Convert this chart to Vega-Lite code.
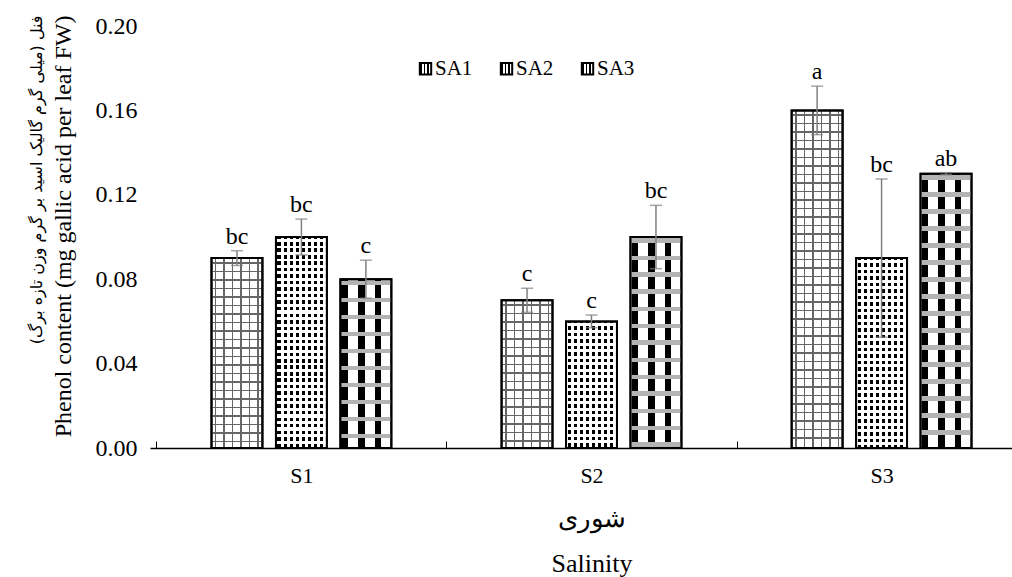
{
  "$schema": "https://vega.github.io/schema/vega-lite/v6.json",
  "autosize": {"type": "none"},
  "padding": {"left": 150, "top": 26, "right": 0, "bottom": 129},
  "width": 862,
  "height": 422,
  "background": "white",
  "config": {
    "view": {"stroke": null},
    "font": "Liberation Serif",
    "axis": {"labelFont": "Liberation Serif", "titleFont": "Liberation Serif", "labelColor": "black", "titleColor": "black", "titleFontWeight": "normal", "grid": false},
    "legend": {"labelFont": "Liberation Serif"},
    "text": {"font": "Liberation Serif"}
  },
  "data": {
    "values": [
      {"S": "S1", "SA": "SA1", "v": 0.09, "lo": 0.0865, "hi": 0.0935, "g": "bc"},
      {"S": "S1", "SA": "SA2", "v": 0.10, "lo": 0.0915, "hi": 0.1085, "g": "bc"},
      {"S": "S1", "SA": "SA3", "v": 0.08, "lo": 0.071, "hi": 0.089, "g": "c"},
      {"S": "S2", "SA": "SA1", "v": 0.07, "lo": 0.0643, "hi": 0.0757, "g": "c"},
      {"S": "S2", "SA": "SA2", "v": 0.06, "lo": 0.057, "hi": 0.063, "g": "c"},
      {"S": "S2", "SA": "SA3", "v": 0.10, "lo": 0.085, "hi": 0.115, "g": "bc"},
      {"S": "S3", "SA": "SA1", "v": 0.16, "lo": 0.1485, "hi": 0.1715, "g": "a"},
      {"S": "S3", "SA": "SA2", "v": 0.09, "lo": 0.0525, "hi": 0.1275, "g": "bc"},
      {"S": "S3", "SA": "SA3", "v": 0.13, "lo": 0.1295, "hi": 0.1305, "g": "ab"}
    ]
  },
  "resolve": {"axis": {"y": "independent"}},
  "encoding": {
    "x": {
      "field": "S", "type": "nominal",
      "scale": {"range": [0, 883], "paddingInner": 0, "paddingOuter": 0.022},
      "axis": {
        "title": ["شوری", "Salinity"],
        "titleFont": "Liberation Serif",
        "titleFontSize": 26,
        "titleLineHeight": 45,
        "titlePadding": 19,
        "labelFont": "Liberation Serif",
        "labelAngle": 0,
        "labelFontSize": 22,
        "labelPadding": 24,
        "domainColor": "black",
        "domainWidth": 1.5,
        "tickBand": "extent",
        "tickSize": -7,
        "tickColor": "black",
        "tickWidth": 1
      }
    },
    "xOffset": {"field": "SA", "type": "nominal", "scale": {"paddingInner": 0.21, "paddingOuter": 0.855}}
  },
  "layer": [
    {
      "mark": {"type": "bar", "strokeWidth": 2},
      "encoding": {
        "y": {
          "field": "v", "type": "quantitative",
          "scale": {"domain": [0, 0.2], "nice": false},
          "axis": {
            "title": "Phenol content (mg gallic acid per leaf FW)",
            "titleFont": "Liberation Serif",
            "titleFontSize": 24,
            "titlePadding": 20,
            "titleAlign": "right",
            "titleY": -11,
            "values": [0, 0.04, 0.08, 0.12, 0.16, 0.2],
            "format": ".2f",
            "labelFont": "Liberation Serif",
            "labelFontSize": 24,
            "labelPadding": 13,
            "domain": false,
            "ticks": false
          }
        },
        "stroke": {
          "field": "SA", "type": "nominal",
          "scale": {"range": ["black", "black", "black"]},
          "legend": {
            "title": null,
            "orient": "none",
            "legendX": 265,
            "legendY": 32,
            "direction": "horizontal",
            "symbolType": "square",
            "symbolSize": 130,
            "symbolStrokeWidth": 2,
            "symbolFillColor": "white",
            "labelFont": "Liberation Serif",
            "labelFontSize": 21,
            "labelColor": "black",
            "labelOffset": -1,
            "columnPadding": 23
          }
        },
        "fill": {
          "condition": [
            {
              "test": "datum.SA === 'SA1'",
              "value": {
                "gradient": "linear", "x1": 0, "y1": 0, "x2": 1, "y2": 0,
                "stops": [
                  {"offset": 0, "color": "white"},
                  {"offset": 0.068, "color": "white"}, {"offset": 0.068, "color": "#666"}, {"offset": 0.098, "color": "#666"}, {"offset": 0.098, "color": "white"},
                  {"offset": 0.235, "color": "white"}, {"offset": 0.235, "color": "#666"}, {"offset": 0.265, "color": "#666"}, {"offset": 0.265, "color": "white"},
                  {"offset": 0.402, "color": "white"}, {"offset": 0.402, "color": "#666"}, {"offset": 0.432, "color": "#666"}, {"offset": 0.432, "color": "white"},
                  {"offset": 0.568, "color": "white"}, {"offset": 0.568, "color": "#666"}, {"offset": 0.598, "color": "#666"}, {"offset": 0.598, "color": "white"},
                  {"offset": 0.735, "color": "white"}, {"offset": 0.735, "color": "#666"}, {"offset": 0.765, "color": "#666"}, {"offset": 0.765, "color": "white"},
                  {"offset": 0.902, "color": "white"}, {"offset": 0.902, "color": "#666"}, {"offset": 0.932, "color": "#666"}, {"offset": 0.932, "color": "white"},
                  {"offset": 1, "color": "white"}
                ]
              }
            },
            {
              "test": "datum.SA === 'SA2'",
              "value": {
                "gradient": "linear", "x1": 0, "y1": 0, "x2": 1, "y2": 0,
                "stops": [
                  {"offset": 0, "color": "white"},
                  {"offset": 0.03, "color": "white"}, {"offset": 0.03, "color": "black"}, {"offset": 0.09, "color": "black"}, {"offset": 0.09, "color": "white"},
                  {"offset": 0.15, "color": "white"}, {"offset": 0.15, "color": "black"}, {"offset": 0.21, "color": "black"}, {"offset": 0.21, "color": "white"},
                  {"offset": 0.27, "color": "white"}, {"offset": 0.27, "color": "black"}, {"offset": 0.33, "color": "black"}, {"offset": 0.33, "color": "white"},
                  {"offset": 0.39, "color": "white"}, {"offset": 0.39, "color": "black"}, {"offset": 0.45, "color": "black"}, {"offset": 0.45, "color": "white"},
                  {"offset": 0.51, "color": "white"}, {"offset": 0.51, "color": "black"}, {"offset": 0.57, "color": "black"}, {"offset": 0.57, "color": "white"},
                  {"offset": 0.63, "color": "white"}, {"offset": 0.63, "color": "black"}, {"offset": 0.69, "color": "black"}, {"offset": 0.69, "color": "white"},
                  {"offset": 0.75, "color": "white"}, {"offset": 0.75, "color": "black"}, {"offset": 0.81, "color": "black"}, {"offset": 0.81, "color": "white"},
                  {"offset": 0.87, "color": "white"}, {"offset": 0.87, "color": "black"}, {"offset": 0.93, "color": "black"}, {"offset": 0.93, "color": "white"},
                  {"offset": 1, "color": "white"}
                ]
              }
            }
          ],
          "value": {
            "gradient": "linear", "x1": 0, "y1": 0, "x2": 1, "y2": 0,
            "stops": [
              {"offset": 0, "color": "white"},
              {"offset": 0.02, "color": "white"}, {"offset": 0.02, "color": "black"}, {"offset": 0.15, "color": "black"}, {"offset": 0.15, "color": "white"},
              {"offset": 0.35, "color": "white"}, {"offset": 0.35, "color": "black"}, {"offset": 0.48, "color": "black"}, {"offset": 0.48, "color": "white"},
              {"offset": 0.67, "color": "white"}, {"offset": 0.67, "color": "black"}, {"offset": 0.80, "color": "black"}, {"offset": 0.80, "color": "white"},
              {"offset": 1, "color": "white"}
            ]
          }
        }
      }
    },
    {
      "transform": [{"filter": "datum.SA === 'SA1'"}],
      "mark": {"type": "bar", "strokeWidth": 0},
      "encoding": {
        "y": {"field": "v", "type": "quantitative", "axis": null},
        "fill": {
          "condition": [
            {
              "test": "datum.S === 'S1'",
              "value": {
                "gradient": "linear", "x1": 0, "y1": 0, "x2": 0, "y2": 1,
                "stops": [
                  {"offset": 0, "color": "transparent"},
                  {"offset": 0.0211, "color": "transparent"}, {"offset": 0.0211, "color": "#666"}, {"offset": 0.0290, "color": "#666"}, {"offset": 0.0290, "color": "transparent"},
                  {"offset": 0.0658, "color": "transparent"}, {"offset": 0.0658, "color": "#666"}, {"offset": 0.0737, "color": "#666"}, {"offset": 0.0737, "color": "transparent"},
                  {"offset": 0.1106, "color": "transparent"}, {"offset": 0.1106, "color": "#666"}, {"offset": 0.1185, "color": "#666"}, {"offset": 0.1185, "color": "transparent"},
                  {"offset": 0.1553, "color": "transparent"}, {"offset": 0.1553, "color": "#666"}, {"offset": 0.1632, "color": "#666"}, {"offset": 0.1632, "color": "transparent"},
                  {"offset": 0.2001, "color": "transparent"}, {"offset": 0.2001, "color": "#666"}, {"offset": 0.2080, "color": "#666"}, {"offset": 0.2080, "color": "transparent"},
                  {"offset": 0.2449, "color": "transparent"}, {"offset": 0.2449, "color": "#666"}, {"offset": 0.2528, "color": "#666"}, {"offset": 0.2528, "color": "transparent"},
                  {"offset": 0.2896, "color": "transparent"}, {"offset": 0.2896, "color": "#666"}, {"offset": 0.2975, "color": "#666"}, {"offset": 0.2975, "color": "transparent"},
                  {"offset": 0.3344, "color": "transparent"}, {"offset": 0.3344, "color": "#666"}, {"offset": 0.3423, "color": "#666"}, {"offset": 0.3423, "color": "transparent"},
                  {"offset": 0.3791, "color": "transparent"}, {"offset": 0.3791, "color": "#666"}, {"offset": 0.3871, "color": "#666"}, {"offset": 0.3871, "color": "transparent"},
                  {"offset": 0.4239, "color": "transparent"}, {"offset": 0.4239, "color": "#666"}, {"offset": 0.4318, "color": "#666"}, {"offset": 0.4318, "color": "transparent"},
                  {"offset": 0.4687, "color": "transparent"}, {"offset": 0.4687, "color": "#666"}, {"offset": 0.4766, "color": "#666"}, {"offset": 0.4766, "color": "transparent"},
                  {"offset": 0.5134, "color": "transparent"}, {"offset": 0.5134, "color": "#666"}, {"offset": 0.5213, "color": "#666"}, {"offset": 0.5213, "color": "transparent"},
                  {"offset": 0.5582, "color": "transparent"}, {"offset": 0.5582, "color": "#666"}, {"offset": 0.5661, "color": "#666"}, {"offset": 0.5661, "color": "transparent"},
                  {"offset": 0.6030, "color": "transparent"}, {"offset": 0.6030, "color": "#666"}, {"offset": 0.6108, "color": "#666"}, {"offset": 0.6108, "color": "transparent"},
                  {"offset": 0.6477, "color": "transparent"}, {"offset": 0.6477, "color": "#666"}, {"offset": 0.6556, "color": "#666"}, {"offset": 0.6556, "color": "transparent"},
                  {"offset": 0.6925, "color": "transparent"}, {"offset": 0.6925, "color": "#666"}, {"offset": 0.7004, "color": "#666"}, {"offset": 0.7004, "color": "transparent"},
                  {"offset": 0.7372, "color": "transparent"}, {"offset": 0.7372, "color": "#666"}, {"offset": 0.7451, "color": "#666"}, {"offset": 0.7451, "color": "transparent"},
                  {"offset": 0.7820, "color": "transparent"}, {"offset": 0.7820, "color": "#666"}, {"offset": 0.7899, "color": "#666"}, {"offset": 0.7899, "color": "transparent"},
                  {"offset": 0.8268, "color": "transparent"}, {"offset": 0.8268, "color": "#666"}, {"offset": 0.8347, "color": "#666"}, {"offset": 0.8347, "color": "transparent"},
                  {"offset": 0.8715, "color": "transparent"}, {"offset": 0.8715, "color": "#666"}, {"offset": 0.8794, "color": "#666"}, {"offset": 0.8794, "color": "transparent"},
                  {"offset": 0.9163, "color": "transparent"}, {"offset": 0.9163, "color": "#666"}, {"offset": 0.9242, "color": "#666"}, {"offset": 0.9242, "color": "transparent"},
                  {"offset": 0.9610, "color": "transparent"}, {"offset": 0.9610, "color": "#666"}, {"offset": 0.9689, "color": "#666"}, {"offset": 0.9689, "color": "transparent"},
                  {"offset": 1, "color": "transparent"}
                ]
              }
            },
            {
              "test": "datum.S === 'S2'",
              "value": {
                "gradient": "linear", "x1": 0, "y1": 0, "x2": 0, "y2": 1,
                "stops": [
                  {"offset": 0, "color": "transparent"},
                  {"offset": 0.0271, "color": "transparent"}, {"offset": 0.0271, "color": "#666"}, {"offset": 0.0372, "color": "#666"}, {"offset": 0.0372, "color": "transparent"},
                  {"offset": 0.0846, "color": "transparent"}, {"offset": 0.0846, "color": "#666"}, {"offset": 0.0948, "color": "#666"}, {"offset": 0.0948, "color": "transparent"},
                  {"offset": 0.1422, "color": "transparent"}, {"offset": 0.1422, "color": "#666"}, {"offset": 0.1523, "color": "#666"}, {"offset": 0.1523, "color": "transparent"},
                  {"offset": 0.1997, "color": "transparent"}, {"offset": 0.1997, "color": "#666"}, {"offset": 0.2099, "color": "#666"}, {"offset": 0.2099, "color": "transparent"},
                  {"offset": 0.2573, "color": "transparent"}, {"offset": 0.2573, "color": "#666"}, {"offset": 0.2674, "color": "#666"}, {"offset": 0.2674, "color": "transparent"},
                  {"offset": 0.3148, "color": "transparent"}, {"offset": 0.3148, "color": "#666"}, {"offset": 0.3250, "color": "#666"}, {"offset": 0.3250, "color": "transparent"},
                  {"offset": 0.3724, "color": "transparent"}, {"offset": 0.3724, "color": "#666"}, {"offset": 0.3825, "color": "#666"}, {"offset": 0.3825, "color": "transparent"},
                  {"offset": 0.4299, "color": "transparent"}, {"offset": 0.4299, "color": "#666"}, {"offset": 0.4401, "color": "#666"}, {"offset": 0.4401, "color": "transparent"},
                  {"offset": 0.4875, "color": "transparent"}, {"offset": 0.4875, "color": "#666"}, {"offset": 0.4976, "color": "#666"}, {"offset": 0.4976, "color": "transparent"},
                  {"offset": 0.5450, "color": "transparent"}, {"offset": 0.5450, "color": "#666"}, {"offset": 0.5552, "color": "#666"}, {"offset": 0.5552, "color": "transparent"},
                  {"offset": 0.6026, "color": "transparent"}, {"offset": 0.6026, "color": "#666"}, {"offset": 0.6127, "color": "#666"}, {"offset": 0.6127, "color": "transparent"},
                  {"offset": 0.6601, "color": "transparent"}, {"offset": 0.6601, "color": "#666"}, {"offset": 0.6703, "color": "#666"}, {"offset": 0.6703, "color": "transparent"},
                  {"offset": 0.7177, "color": "transparent"}, {"offset": 0.7177, "color": "#666"}, {"offset": 0.7278, "color": "#666"}, {"offset": 0.7278, "color": "transparent"},
                  {"offset": 0.7752, "color": "transparent"}, {"offset": 0.7752, "color": "#666"}, {"offset": 0.7854, "color": "#666"}, {"offset": 0.7854, "color": "transparent"},
                  {"offset": 0.8328, "color": "transparent"}, {"offset": 0.8328, "color": "#666"}, {"offset": 0.8429, "color": "#666"}, {"offset": 0.8429, "color": "transparent"},
                  {"offset": 0.8903, "color": "transparent"}, {"offset": 0.8903, "color": "#666"}, {"offset": 0.9005, "color": "#666"}, {"offset": 0.9005, "color": "transparent"},
                  {"offset": 0.9479, "color": "transparent"}, {"offset": 0.9479, "color": "#666"}, {"offset": 0.9580, "color": "#666"}, {"offset": 0.9580, "color": "transparent"},
                  {"offset": 1, "color": "transparent"}
                ]
              }
            }
          ],
          "value": {
            "gradient": "linear", "x1": 0, "y1": 0, "x2": 0, "y2": 1,
            "stops": [
              {"offset": 0, "color": "transparent"},
              {"offset": 0.0118, "color": "transparent"}, {"offset": 0.0118, "color": "#666"}, {"offset": 0.0163, "color": "#666"}, {"offset": 0.0163, "color": "transparent"},
              {"offset": 0.0370, "color": "transparent"}, {"offset": 0.0370, "color": "#666"}, {"offset": 0.0415, "color": "#666"}, {"offset": 0.0415, "color": "transparent"},
              {"offset": 0.0622, "color": "transparent"}, {"offset": 0.0622, "color": "#666"}, {"offset": 0.0666, "color": "#666"}, {"offset": 0.0666, "color": "transparent"},
              {"offset": 0.0874, "color": "transparent"}, {"offset": 0.0874, "color": "#666"}, {"offset": 0.0918, "color": "#666"}, {"offset": 0.0918, "color": "transparent"},
              {"offset": 0.1126, "color": "transparent"}, {"offset": 0.1126, "color": "#666"}, {"offset": 0.1170, "color": "#666"}, {"offset": 0.1170, "color": "transparent"},
              {"offset": 0.1377, "color": "transparent"}, {"offset": 0.1377, "color": "#666"}, {"offset": 0.1422, "color": "#666"}, {"offset": 0.1422, "color": "transparent"},
              {"offset": 0.1629, "color": "transparent"}, {"offset": 0.1629, "color": "#666"}, {"offset": 0.1674, "color": "#666"}, {"offset": 0.1674, "color": "transparent"},
              {"offset": 0.1881, "color": "transparent"}, {"offset": 0.1881, "color": "#666"}, {"offset": 0.1925, "color": "#666"}, {"offset": 0.1925, "color": "transparent"},
              {"offset": 0.2133, "color": "transparent"}, {"offset": 0.2133, "color": "#666"}, {"offset": 0.2177, "color": "#666"}, {"offset": 0.2177, "color": "transparent"},
              {"offset": 0.2384, "color": "transparent"}, {"offset": 0.2384, "color": "#666"}, {"offset": 0.2429, "color": "#666"}, {"offset": 0.2429, "color": "transparent"},
              {"offset": 0.2636, "color": "transparent"}, {"offset": 0.2636, "color": "#666"}, {"offset": 0.2681, "color": "#666"}, {"offset": 0.2681, "color": "transparent"},
              {"offset": 0.2888, "color": "transparent"}, {"offset": 0.2888, "color": "#666"}, {"offset": 0.2932, "color": "#666"}, {"offset": 0.2932, "color": "transparent"},
              {"offset": 0.3140, "color": "transparent"}, {"offset": 0.3140, "color": "#666"}, {"offset": 0.3184, "color": "#666"}, {"offset": 0.3184, "color": "transparent"},
              {"offset": 0.3392, "color": "transparent"}, {"offset": 0.3392, "color": "#666"}, {"offset": 0.3436, "color": "#666"}, {"offset": 0.3436, "color": "transparent"},
              {"offset": 0.3643, "color": "transparent"}, {"offset": 0.3643, "color": "#666"}, {"offset": 0.3688, "color": "#666"}, {"offset": 0.3688, "color": "transparent"},
              {"offset": 0.3895, "color": "transparent"}, {"offset": 0.3895, "color": "#666"}, {"offset": 0.3940, "color": "#666"}, {"offset": 0.3940, "color": "transparent"},
              {"offset": 0.4147, "color": "transparent"}, {"offset": 0.4147, "color": "#666"}, {"offset": 0.4191, "color": "#666"}, {"offset": 0.4191, "color": "transparent"},
              {"offset": 0.4399, "color": "transparent"}, {"offset": 0.4399, "color": "#666"}, {"offset": 0.4443, "color": "#666"}, {"offset": 0.4443, "color": "transparent"},
              {"offset": 0.4650, "color": "transparent"}, {"offset": 0.4650, "color": "#666"}, {"offset": 0.4695, "color": "#666"}, {"offset": 0.4695, "color": "transparent"},
              {"offset": 0.4902, "color": "transparent"}, {"offset": 0.4902, "color": "#666"}, {"offset": 0.4947, "color": "#666"}, {"offset": 0.4947, "color": "transparent"},
              {"offset": 0.5154, "color": "transparent"}, {"offset": 0.5154, "color": "#666"}, {"offset": 0.5198, "color": "#666"}, {"offset": 0.5198, "color": "transparent"},
              {"offset": 0.5406, "color": "transparent"}, {"offset": 0.5406, "color": "#666"}, {"offset": 0.5450, "color": "#666"}, {"offset": 0.5450, "color": "transparent"},
              {"offset": 0.5658, "color": "transparent"}, {"offset": 0.5658, "color": "#666"}, {"offset": 0.5702, "color": "#666"}, {"offset": 0.5702, "color": "transparent"},
              {"offset": 0.5909, "color": "transparent"}, {"offset": 0.5909, "color": "#666"}, {"offset": 0.5954, "color": "#666"}, {"offset": 0.5954, "color": "transparent"},
              {"offset": 0.6161, "color": "transparent"}, {"offset": 0.6161, "color": "#666"}, {"offset": 0.6206, "color": "#666"}, {"offset": 0.6206, "color": "transparent"},
              {"offset": 0.6413, "color": "transparent"}, {"offset": 0.6413, "color": "#666"}, {"offset": 0.6457, "color": "#666"}, {"offset": 0.6457, "color": "transparent"},
              {"offset": 0.6665, "color": "transparent"}, {"offset": 0.6665, "color": "#666"}, {"offset": 0.6709, "color": "#666"}, {"offset": 0.6709, "color": "transparent"},
              {"offset": 0.6916, "color": "transparent"}, {"offset": 0.6916, "color": "#666"}, {"offset": 0.6961, "color": "#666"}, {"offset": 0.6961, "color": "transparent"},
              {"offset": 0.7168, "color": "transparent"}, {"offset": 0.7168, "color": "#666"}, {"offset": 0.7213, "color": "#666"}, {"offset": 0.7213, "color": "transparent"},
              {"offset": 0.7420, "color": "transparent"}, {"offset": 0.7420, "color": "#666"}, {"offset": 0.7464, "color": "#666"}, {"offset": 0.7464, "color": "transparent"},
              {"offset": 0.7672, "color": "transparent"}, {"offset": 0.7672, "color": "#666"}, {"offset": 0.7716, "color": "#666"}, {"offset": 0.7716, "color": "transparent"},
              {"offset": 0.7924, "color": "transparent"}, {"offset": 0.7924, "color": "#666"}, {"offset": 0.7968, "color": "#666"}, {"offset": 0.7968, "color": "transparent"},
              {"offset": 0.8175, "color": "transparent"}, {"offset": 0.8175, "color": "#666"}, {"offset": 0.8220, "color": "#666"}, {"offset": 0.8220, "color": "transparent"},
              {"offset": 0.8427, "color": "transparent"}, {"offset": 0.8427, "color": "#666"}, {"offset": 0.8472, "color": "#666"}, {"offset": 0.8472, "color": "transparent"},
              {"offset": 0.8679, "color": "transparent"}, {"offset": 0.8679, "color": "#666"}, {"offset": 0.8723, "color": "#666"}, {"offset": 0.8723, "color": "transparent"},
              {"offset": 0.8931, "color": "transparent"}, {"offset": 0.8931, "color": "#666"}, {"offset": 0.8975, "color": "#666"}, {"offset": 0.8975, "color": "transparent"},
              {"offset": 0.9182, "color": "transparent"}, {"offset": 0.9182, "color": "#666"}, {"offset": 0.9227, "color": "#666"}, {"offset": 0.9227, "color": "transparent"},
              {"offset": 0.9434, "color": "transparent"}, {"offset": 0.9434, "color": "#666"}, {"offset": 0.9479, "color": "#666"}, {"offset": 0.9479, "color": "transparent"},
              {"offset": 0.9686, "color": "transparent"}, {"offset": 0.9686, "color": "#666"}, {"offset": 0.9730, "color": "#666"}, {"offset": 0.9730, "color": "transparent"},
              {"offset": 1, "color": "transparent"}
            ]
          }
        }
      }
    },
    {
      "transform": [{"filter": "datum.SA === 'SA2'"}],
      "mark": {"type": "bar", "strokeWidth": 0},
      "encoding": {
        "y": {"field": "v", "type": "quantitative", "axis": null},
        "fill": {
          "condition": [
            {
              "test": "datum.S === 'S1'",
              "value": {
                "gradient": "linear", "x1": 0, "y1": 0, "x2": 0, "y2": 1,
                "stops": [
                  {"offset": 0, "color": "transparent"},
                  {"offset": 0.0095, "color": "transparent"}, {"offset": 0.0095, "color": "white"}, {"offset": 0.0237, "color": "white"}, {"offset": 0.0237, "color": "transparent"},
                  {"offset": 0.0403, "color": "transparent"}, {"offset": 0.0403, "color": "white"}, {"offset": 0.0545, "color": "white"}, {"offset": 0.0545, "color": "transparent"},
                  {"offset": 0.0711, "color": "transparent"}, {"offset": 0.0711, "color": "white"}, {"offset": 0.0853, "color": "white"}, {"offset": 0.0853, "color": "transparent"},
                  {"offset": 0.1019, "color": "transparent"}, {"offset": 0.1019, "color": "white"}, {"offset": 0.1161, "color": "white"}, {"offset": 0.1161, "color": "transparent"},
                  {"offset": 0.1327, "color": "transparent"}, {"offset": 0.1327, "color": "white"}, {"offset": 0.1469, "color": "white"}, {"offset": 0.1469, "color": "transparent"},
                  {"offset": 0.1635, "color": "transparent"}, {"offset": 0.1635, "color": "white"}, {"offset": 0.1777, "color": "white"}, {"offset": 0.1777, "color": "transparent"},
                  {"offset": 0.1943, "color": "transparent"}, {"offset": 0.1943, "color": "white"}, {"offset": 0.2085, "color": "white"}, {"offset": 0.2085, "color": "transparent"},
                  {"offset": 0.2251, "color": "transparent"}, {"offset": 0.2251, "color": "white"}, {"offset": 0.2393, "color": "white"}, {"offset": 0.2393, "color": "transparent"},
                  {"offset": 0.2559, "color": "transparent"}, {"offset": 0.2559, "color": "white"}, {"offset": 0.2701, "color": "white"}, {"offset": 0.2701, "color": "transparent"},
                  {"offset": 0.2867, "color": "transparent"}, {"offset": 0.2867, "color": "white"}, {"offset": 0.3009, "color": "white"}, {"offset": 0.3009, "color": "transparent"},
                  {"offset": 0.3175, "color": "transparent"}, {"offset": 0.3175, "color": "white"}, {"offset": 0.3318, "color": "white"}, {"offset": 0.3318, "color": "transparent"},
                  {"offset": 0.3483, "color": "transparent"}, {"offset": 0.3483, "color": "white"}, {"offset": 0.3626, "color": "white"}, {"offset": 0.3626, "color": "transparent"},
                  {"offset": 0.3791, "color": "transparent"}, {"offset": 0.3791, "color": "white"}, {"offset": 0.3934, "color": "white"}, {"offset": 0.3934, "color": "transparent"},
                  {"offset": 0.4100, "color": "transparent"}, {"offset": 0.4100, "color": "white"}, {"offset": 0.4242, "color": "white"}, {"offset": 0.4242, "color": "transparent"},
                  {"offset": 0.4408, "color": "transparent"}, {"offset": 0.4408, "color": "white"}, {"offset": 0.4550, "color": "white"}, {"offset": 0.4550, "color": "transparent"},
                  {"offset": 0.4716, "color": "transparent"}, {"offset": 0.4716, "color": "white"}, {"offset": 0.4858, "color": "white"}, {"offset": 0.4858, "color": "transparent"},
                  {"offset": 0.5024, "color": "transparent"}, {"offset": 0.5024, "color": "white"}, {"offset": 0.5166, "color": "white"}, {"offset": 0.5166, "color": "transparent"},
                  {"offset": 0.5332, "color": "transparent"}, {"offset": 0.5332, "color": "white"}, {"offset": 0.5474, "color": "white"}, {"offset": 0.5474, "color": "transparent"},
                  {"offset": 0.5640, "color": "transparent"}, {"offset": 0.5640, "color": "white"}, {"offset": 0.5782, "color": "white"}, {"offset": 0.5782, "color": "transparent"},
                  {"offset": 0.5948, "color": "transparent"}, {"offset": 0.5948, "color": "white"}, {"offset": 0.6090, "color": "white"}, {"offset": 0.6090, "color": "transparent"},
                  {"offset": 0.6256, "color": "transparent"}, {"offset": 0.6256, "color": "white"}, {"offset": 0.6398, "color": "white"}, {"offset": 0.6398, "color": "transparent"},
                  {"offset": 0.6564, "color": "transparent"}, {"offset": 0.6564, "color": "white"}, {"offset": 0.6706, "color": "white"}, {"offset": 0.6706, "color": "transparent"},
                  {"offset": 0.6872, "color": "transparent"}, {"offset": 0.6872, "color": "white"}, {"offset": 0.7014, "color": "white"}, {"offset": 0.7014, "color": "transparent"},
                  {"offset": 0.7180, "color": "transparent"}, {"offset": 0.7180, "color": "white"}, {"offset": 0.7322, "color": "white"}, {"offset": 0.7322, "color": "transparent"},
                  {"offset": 0.7488, "color": "transparent"}, {"offset": 0.7488, "color": "white"}, {"offset": 0.7630, "color": "white"}, {"offset": 0.7630, "color": "transparent"},
                  {"offset": 0.7796, "color": "transparent"}, {"offset": 0.7796, "color": "white"}, {"offset": 0.7938, "color": "white"}, {"offset": 0.7938, "color": "transparent"},
                  {"offset": 0.8104, "color": "transparent"}, {"offset": 0.8104, "color": "white"}, {"offset": 0.8246, "color": "white"}, {"offset": 0.8246, "color": "transparent"},
                  {"offset": 0.8412, "color": "transparent"}, {"offset": 0.8412, "color": "white"}, {"offset": 0.8555, "color": "white"}, {"offset": 0.8555, "color": "transparent"},
                  {"offset": 0.8720, "color": "transparent"}, {"offset": 0.8720, "color": "white"}, {"offset": 0.8863, "color": "white"}, {"offset": 0.8863, "color": "transparent"},
                  {"offset": 0.9028, "color": "transparent"}, {"offset": 0.9028, "color": "white"}, {"offset": 0.9171, "color": "white"}, {"offset": 0.9171, "color": "transparent"},
                  {"offset": 0.9336, "color": "transparent"}, {"offset": 0.9336, "color": "white"}, {"offset": 0.9479, "color": "white"}, {"offset": 0.9479, "color": "transparent"},
                  {"offset": 0.9645, "color": "transparent"}, {"offset": 0.9645, "color": "white"}, {"offset": 0.9787, "color": "white"}, {"offset": 0.9787, "color": "transparent"},
                  {"offset": 1, "color": "transparent"}
                ]
              }
            },
            {
              "test": "datum.S === 'S2'",
              "value": {
                "gradient": "linear", "x1": 0, "y1": 0, "x2": 0, "y2": 1,
                "stops": [
                  {"offset": 0, "color": "transparent"},
                  {"offset": 0.0158, "color": "transparent"}, {"offset": 0.0158, "color": "white"}, {"offset": 0.0395, "color": "white"}, {"offset": 0.0395, "color": "transparent"},
                  {"offset": 0.0671, "color": "transparent"}, {"offset": 0.0671, "color": "white"}, {"offset": 0.0908, "color": "white"}, {"offset": 0.0908, "color": "transparent"},
                  {"offset": 0.1185, "color": "transparent"}, {"offset": 0.1185, "color": "white"}, {"offset": 0.1422, "color": "white"}, {"offset": 0.1422, "color": "transparent"},
                  {"offset": 0.1698, "color": "transparent"}, {"offset": 0.1698, "color": "white"}, {"offset": 0.1935, "color": "white"}, {"offset": 0.1935, "color": "transparent"},
                  {"offset": 0.2212, "color": "transparent"}, {"offset": 0.2212, "color": "white"}, {"offset": 0.2449, "color": "white"}, {"offset": 0.2449, "color": "transparent"},
                  {"offset": 0.2725, "color": "transparent"}, {"offset": 0.2725, "color": "white"}, {"offset": 0.2962, "color": "white"}, {"offset": 0.2962, "color": "transparent"},
                  {"offset": 0.3239, "color": "transparent"}, {"offset": 0.3239, "color": "white"}, {"offset": 0.3476, "color": "white"}, {"offset": 0.3476, "color": "transparent"},
                  {"offset": 0.3752, "color": "transparent"}, {"offset": 0.3752, "color": "white"}, {"offset": 0.3989, "color": "white"}, {"offset": 0.3989, "color": "transparent"},
                  {"offset": 0.4265, "color": "transparent"}, {"offset": 0.4265, "color": "white"}, {"offset": 0.4502, "color": "white"}, {"offset": 0.4502, "color": "transparent"},
                  {"offset": 0.4779, "color": "transparent"}, {"offset": 0.4779, "color": "white"}, {"offset": 0.5016, "color": "white"}, {"offset": 0.5016, "color": "transparent"},
                  {"offset": 0.5292, "color": "transparent"}, {"offset": 0.5292, "color": "white"}, {"offset": 0.5529, "color": "white"}, {"offset": 0.5529, "color": "transparent"},
                  {"offset": 0.5806, "color": "transparent"}, {"offset": 0.5806, "color": "white"}, {"offset": 0.6043, "color": "white"}, {"offset": 0.6043, "color": "transparent"},
                  {"offset": 0.6319, "color": "transparent"}, {"offset": 0.6319, "color": "white"}, {"offset": 0.6556, "color": "white"}, {"offset": 0.6556, "color": "transparent"},
                  {"offset": 0.6833, "color": "transparent"}, {"offset": 0.6833, "color": "white"}, {"offset": 0.7070, "color": "white"}, {"offset": 0.7070, "color": "transparent"},
                  {"offset": 0.7346, "color": "transparent"}, {"offset": 0.7346, "color": "white"}, {"offset": 0.7583, "color": "white"}, {"offset": 0.7583, "color": "transparent"},
                  {"offset": 0.7859, "color": "transparent"}, {"offset": 0.7859, "color": "white"}, {"offset": 0.8096, "color": "white"}, {"offset": 0.8096, "color": "transparent"},
                  {"offset": 0.8373, "color": "transparent"}, {"offset": 0.8373, "color": "white"}, {"offset": 0.8610, "color": "white"}, {"offset": 0.8610, "color": "transparent"},
                  {"offset": 0.8886, "color": "transparent"}, {"offset": 0.8886, "color": "white"}, {"offset": 0.9123, "color": "white"}, {"offset": 0.9123, "color": "transparent"},
                  {"offset": 0.9400, "color": "transparent"}, {"offset": 0.9400, "color": "white"}, {"offset": 0.9637, "color": "white"}, {"offset": 0.9637, "color": "transparent"},
                  {"offset": 1, "color": "transparent"}
                ]
              }
            }
          ],
          "value": {
            "gradient": "linear", "x1": 0, "y1": 0, "x2": 0, "y2": 1,
            "stops": [
              {"offset": 0, "color": "transparent"},
              {"offset": 0.0105, "color": "transparent"}, {"offset": 0.0105, "color": "white"}, {"offset": 0.0263, "color": "white"}, {"offset": 0.0263, "color": "transparent"},
              {"offset": 0.0448, "color": "transparent"}, {"offset": 0.0448, "color": "white"}, {"offset": 0.0606, "color": "white"}, {"offset": 0.0606, "color": "transparent"},
              {"offset": 0.0790, "color": "transparent"}, {"offset": 0.0790, "color": "white"}, {"offset": 0.0948, "color": "white"}, {"offset": 0.0948, "color": "transparent"},
              {"offset": 0.1132, "color": "transparent"}, {"offset": 0.1132, "color": "white"}, {"offset": 0.1290, "color": "white"}, {"offset": 0.1290, "color": "transparent"},
              {"offset": 0.1474, "color": "transparent"}, {"offset": 0.1474, "color": "white"}, {"offset": 0.1632, "color": "white"}, {"offset": 0.1632, "color": "transparent"},
              {"offset": 0.1817, "color": "transparent"}, {"offset": 0.1817, "color": "white"}, {"offset": 0.1975, "color": "white"}, {"offset": 0.1975, "color": "transparent"},
              {"offset": 0.2159, "color": "transparent"}, {"offset": 0.2159, "color": "white"}, {"offset": 0.2317, "color": "white"}, {"offset": 0.2317, "color": "transparent"},
              {"offset": 0.2501, "color": "transparent"}, {"offset": 0.2501, "color": "white"}, {"offset": 0.2659, "color": "white"}, {"offset": 0.2659, "color": "transparent"},
              {"offset": 0.2844, "color": "transparent"}, {"offset": 0.2844, "color": "white"}, {"offset": 0.3002, "color": "white"}, {"offset": 0.3002, "color": "transparent"},
              {"offset": 0.3186, "color": "transparent"}, {"offset": 0.3186, "color": "white"}, {"offset": 0.3344, "color": "white"}, {"offset": 0.3344, "color": "transparent"},
              {"offset": 0.3528, "color": "transparent"}, {"offset": 0.3528, "color": "white"}, {"offset": 0.3686, "color": "white"}, {"offset": 0.3686, "color": "transparent"},
              {"offset": 0.3870, "color": "transparent"}, {"offset": 0.3870, "color": "white"}, {"offset": 0.4028, "color": "white"}, {"offset": 0.4028, "color": "transparent"},
              {"offset": 0.4213, "color": "transparent"}, {"offset": 0.4213, "color": "white"}, {"offset": 0.4371, "color": "white"}, {"offset": 0.4371, "color": "transparent"},
              {"offset": 0.4555, "color": "transparent"}, {"offset": 0.4555, "color": "white"}, {"offset": 0.4713, "color": "white"}, {"offset": 0.4713, "color": "transparent"},
              {"offset": 0.4897, "color": "transparent"}, {"offset": 0.4897, "color": "white"}, {"offset": 0.5055, "color": "white"}, {"offset": 0.5055, "color": "transparent"},
              {"offset": 0.5240, "color": "transparent"}, {"offset": 0.5240, "color": "white"}, {"offset": 0.5398, "color": "white"}, {"offset": 0.5398, "color": "transparent"},
              {"offset": 0.5582, "color": "transparent"}, {"offset": 0.5582, "color": "white"}, {"offset": 0.5740, "color": "white"}, {"offset": 0.5740, "color": "transparent"},
              {"offset": 0.5924, "color": "transparent"}, {"offset": 0.5924, "color": "white"}, {"offset": 0.6082, "color": "white"}, {"offset": 0.6082, "color": "transparent"},
              {"offset": 0.6266, "color": "transparent"}, {"offset": 0.6266, "color": "white"}, {"offset": 0.6424, "color": "white"}, {"offset": 0.6424, "color": "transparent"},
              {"offset": 0.6609, "color": "transparent"}, {"offset": 0.6609, "color": "white"}, {"offset": 0.6767, "color": "white"}, {"offset": 0.6767, "color": "transparent"},
              {"offset": 0.6951, "color": "transparent"}, {"offset": 0.6951, "color": "white"}, {"offset": 0.7109, "color": "white"}, {"offset": 0.7109, "color": "transparent"},
              {"offset": 0.7293, "color": "transparent"}, {"offset": 0.7293, "color": "white"}, {"offset": 0.7451, "color": "white"}, {"offset": 0.7451, "color": "transparent"},
              {"offset": 0.7636, "color": "transparent"}, {"offset": 0.7636, "color": "white"}, {"offset": 0.7794, "color": "white"}, {"offset": 0.7794, "color": "transparent"},
              {"offset": 0.7978, "color": "transparent"}, {"offset": 0.7978, "color": "white"}, {"offset": 0.8136, "color": "white"}, {"offset": 0.8136, "color": "transparent"},
              {"offset": 0.8320, "color": "transparent"}, {"offset": 0.8320, "color": "white"}, {"offset": 0.8478, "color": "white"}, {"offset": 0.8478, "color": "transparent"},
              {"offset": 0.8662, "color": "transparent"}, {"offset": 0.8662, "color": "white"}, {"offset": 0.8821, "color": "white"}, {"offset": 0.8821, "color": "transparent"},
              {"offset": 0.9005, "color": "transparent"}, {"offset": 0.9005, "color": "white"}, {"offset": 0.9163, "color": "white"}, {"offset": 0.9163, "color": "transparent"},
              {"offset": 0.9347, "color": "transparent"}, {"offset": 0.9347, "color": "white"}, {"offset": 0.9505, "color": "white"}, {"offset": 0.9505, "color": "transparent"},
              {"offset": 0.9689, "color": "transparent"}, {"offset": 0.9689, "color": "white"}, {"offset": 0.9847, "color": "white"}, {"offset": 0.9847, "color": "transparent"},
              {"offset": 1, "color": "transparent"}
            ]
          }
        }
      }
    },
    {
      "transform": [{"filter": "datum.SA === 'SA3'"}],
      "mark": {"type": "bar", "strokeWidth": 0},
      "encoding": {
        "y": {"field": "v", "type": "quantitative", "axis": null},
        "fill": {
          "condition": [
            {
              "test": "datum.S === 'S1'",
              "value": {
                "gradient": "linear", "x1": 0, "y1": 0, "x2": 0, "y2": 1,
                "stops": [
                  {"offset": 0, "color": "transparent"},
                  {"offset": 0.0089, "color": "transparent"}, {"offset": 0.0089, "color": "#b4b4b4"}, {"offset": 0.0356, "color": "#b4b4b4"}, {"offset": 0.0356, "color": "transparent"},
                  {"offset": 0.1096, "color": "transparent"}, {"offset": 0.1096, "color": "#b4b4b4"}, {"offset": 0.1363, "color": "#b4b4b4"}, {"offset": 0.1363, "color": "transparent"},
                  {"offset": 0.2103, "color": "transparent"}, {"offset": 0.2103, "color": "#b4b4b4"}, {"offset": 0.2370, "color": "#b4b4b4"}, {"offset": 0.2370, "color": "transparent"},
                  {"offset": 0.3110, "color": "transparent"}, {"offset": 0.3110, "color": "#b4b4b4"}, {"offset": 0.3377, "color": "#b4b4b4"}, {"offset": 0.3377, "color": "transparent"},
                  {"offset": 0.4117, "color": "transparent"}, {"offset": 0.4117, "color": "#b4b4b4"}, {"offset": 0.4384, "color": "#b4b4b4"}, {"offset": 0.4384, "color": "transparent"},
                  {"offset": 0.5124, "color": "transparent"}, {"offset": 0.5124, "color": "#b4b4b4"}, {"offset": 0.5391, "color": "#b4b4b4"}, {"offset": 0.5391, "color": "transparent"},
                  {"offset": 0.6132, "color": "transparent"}, {"offset": 0.6132, "color": "#b4b4b4"}, {"offset": 0.6398, "color": "#b4b4b4"}, {"offset": 0.6398, "color": "transparent"},
                  {"offset": 0.7139, "color": "transparent"}, {"offset": 0.7139, "color": "#b4b4b4"}, {"offset": 0.7405, "color": "#b4b4b4"}, {"offset": 0.7405, "color": "transparent"},
                  {"offset": 0.8146, "color": "transparent"}, {"offset": 0.8146, "color": "#b4b4b4"}, {"offset": 0.8412, "color": "#b4b4b4"}, {"offset": 0.8412, "color": "transparent"},
                  {"offset": 0.9153, "color": "transparent"}, {"offset": 0.9153, "color": "#b4b4b4"}, {"offset": 0.9420, "color": "#b4b4b4"}, {"offset": 0.9420, "color": "transparent"},
                  {"offset": 1, "color": "transparent"}
                ]
              }
            },
            {
              "test": "datum.S === 'S2'",
              "value": {
                "gradient": "linear", "x1": 0, "y1": 0, "x2": 0, "y2": 1,
                "stops": [
                  {"offset": 0, "color": "transparent"},
                  {"offset": 0.0071, "color": "transparent"}, {"offset": 0.0071, "color": "#b4b4b4"}, {"offset": 0.0284, "color": "#b4b4b4"}, {"offset": 0.0284, "color": "transparent"},
                  {"offset": 0.0877, "color": "transparent"}, {"offset": 0.0877, "color": "#b4b4b4"}, {"offset": 0.1090, "color": "#b4b4b4"}, {"offset": 0.1090, "color": "transparent"},
                  {"offset": 0.1682, "color": "transparent"}, {"offset": 0.1682, "color": "#b4b4b4"}, {"offset": 0.1896, "color": "#b4b4b4"}, {"offset": 0.1896, "color": "transparent"},
                  {"offset": 0.2488, "color": "transparent"}, {"offset": 0.2488, "color": "#b4b4b4"}, {"offset": 0.2701, "color": "#b4b4b4"}, {"offset": 0.2701, "color": "transparent"},
                  {"offset": 0.3294, "color": "transparent"}, {"offset": 0.3294, "color": "#b4b4b4"}, {"offset": 0.3507, "color": "#b4b4b4"}, {"offset": 0.3507, "color": "transparent"},
                  {"offset": 0.4100, "color": "transparent"}, {"offset": 0.4100, "color": "#b4b4b4"}, {"offset": 0.4313, "color": "#b4b4b4"}, {"offset": 0.4313, "color": "transparent"},
                  {"offset": 0.4905, "color": "transparent"}, {"offset": 0.4905, "color": "#b4b4b4"}, {"offset": 0.5118, "color": "#b4b4b4"}, {"offset": 0.5118, "color": "transparent"},
                  {"offset": 0.5711, "color": "transparent"}, {"offset": 0.5711, "color": "#b4b4b4"}, {"offset": 0.5924, "color": "#b4b4b4"}, {"offset": 0.5924, "color": "transparent"},
                  {"offset": 0.6517, "color": "transparent"}, {"offset": 0.6517, "color": "#b4b4b4"}, {"offset": 0.6730, "color": "#b4b4b4"}, {"offset": 0.6730, "color": "transparent"},
                  {"offset": 0.7322, "color": "transparent"}, {"offset": 0.7322, "color": "#b4b4b4"}, {"offset": 0.7536, "color": "#b4b4b4"}, {"offset": 0.7536, "color": "transparent"},
                  {"offset": 0.8128, "color": "transparent"}, {"offset": 0.8128, "color": "#b4b4b4"}, {"offset": 0.8341, "color": "#b4b4b4"}, {"offset": 0.8341, "color": "transparent"},
                  {"offset": 0.8934, "color": "transparent"}, {"offset": 0.8934, "color": "#b4b4b4"}, {"offset": 0.9147, "color": "#b4b4b4"}, {"offset": 0.9147, "color": "transparent"},
                  {"offset": 0.9739, "color": "transparent"}, {"offset": 0.9739, "color": "#b4b4b4"}, {"offset": 0.9953, "color": "#b4b4b4"}, {"offset": 0.9953, "color": "transparent"},
                  {"offset": 1, "color": "transparent"}
                ]
              }
            }
          ],
          "value": {
            "gradient": "linear", "x1": 0, "y1": 0, "x2": 0, "y2": 1,
            "stops": [
              {"offset": 0, "color": "transparent"},
              {"offset": 0.0055, "color": "transparent"}, {"offset": 0.0055, "color": "#b4b4b4"}, {"offset": 0.0219, "color": "#b4b4b4"}, {"offset": 0.0219, "color": "transparent"},
              {"offset": 0.0674, "color": "transparent"}, {"offset": 0.0674, "color": "#b4b4b4"}, {"offset": 0.0839, "color": "#b4b4b4"}, {"offset": 0.0839, "color": "transparent"},
              {"offset": 0.1294, "color": "transparent"}, {"offset": 0.1294, "color": "#b4b4b4"}, {"offset": 0.1458, "color": "#b4b4b4"}, {"offset": 0.1458, "color": "transparent"},
              {"offset": 0.1914, "color": "transparent"}, {"offset": 0.1914, "color": "#b4b4b4"}, {"offset": 0.2078, "color": "#b4b4b4"}, {"offset": 0.2078, "color": "transparent"},
              {"offset": 0.2534, "color": "transparent"}, {"offset": 0.2534, "color": "#b4b4b4"}, {"offset": 0.2698, "color": "#b4b4b4"}, {"offset": 0.2698, "color": "transparent"},
              {"offset": 0.3153, "color": "transparent"}, {"offset": 0.3153, "color": "#b4b4b4"}, {"offset": 0.3317, "color": "#b4b4b4"}, {"offset": 0.3317, "color": "transparent"},
              {"offset": 0.3773, "color": "transparent"}, {"offset": 0.3773, "color": "#b4b4b4"}, {"offset": 0.3937, "color": "#b4b4b4"}, {"offset": 0.3937, "color": "transparent"},
              {"offset": 0.4393, "color": "transparent"}, {"offset": 0.4393, "color": "#b4b4b4"}, {"offset": 0.4557, "color": "#b4b4b4"}, {"offset": 0.4557, "color": "transparent"},
              {"offset": 0.5013, "color": "transparent"}, {"offset": 0.5013, "color": "#b4b4b4"}, {"offset": 0.5177, "color": "#b4b4b4"}, {"offset": 0.5177, "color": "transparent"},
              {"offset": 0.5632, "color": "transparent"}, {"offset": 0.5632, "color": "#b4b4b4"}, {"offset": 0.5796, "color": "#b4b4b4"}, {"offset": 0.5796, "color": "transparent"},
              {"offset": 0.6252, "color": "transparent"}, {"offset": 0.6252, "color": "#b4b4b4"}, {"offset": 0.6416, "color": "#b4b4b4"}, {"offset": 0.6416, "color": "transparent"},
              {"offset": 0.6872, "color": "transparent"}, {"offset": 0.6872, "color": "#b4b4b4"}, {"offset": 0.7036, "color": "#b4b4b4"}, {"offset": 0.7036, "color": "transparent"},
              {"offset": 0.7492, "color": "transparent"}, {"offset": 0.7492, "color": "#b4b4b4"}, {"offset": 0.7656, "color": "#b4b4b4"}, {"offset": 0.7656, "color": "transparent"},
              {"offset": 0.8112, "color": "transparent"}, {"offset": 0.8112, "color": "#b4b4b4"}, {"offset": 0.8276, "color": "#b4b4b4"}, {"offset": 0.8276, "color": "transparent"},
              {"offset": 0.8731, "color": "transparent"}, {"offset": 0.8731, "color": "#b4b4b4"}, {"offset": 0.8895, "color": "#b4b4b4"}, {"offset": 0.8895, "color": "transparent"},
              {"offset": 0.9351, "color": "transparent"}, {"offset": 0.9351, "color": "#b4b4b4"}, {"offset": 0.9515, "color": "#b4b4b4"}, {"offset": 0.9515, "color": "transparent"},
              {"offset": 1, "color": "transparent"}
            ]
          }
        }
      }
    },
    {
      "mark": {"type": "bar", "fill": "transparent", "stroke": "black", "strokeWidth": 2},
      "encoding": {"y": {"field": "v", "type": "quantitative", "axis": null}}
    },
    {
      "mark": {"type": "rule", "color": "#808080", "strokeWidth": 1.5},
      "encoding": {
        "y": {
          "field": "lo", "type": "quantitative",
          "axis": {
            "orient": "left",
            "title": "فنل (میلی گرم گالیک اسید بر گرم وزن تازه برگ)",
            "titleFont": "DejaVu Sans",
            "titleFontSize": 16,
            "titleFontWeight": "normal",
            "titleAlign": "right",
            "titleY": -11,
            "titlePadding": 0,
            "offset": 106,
            "labels": false,
            "ticks": false,
            "domain": false,
            "grid": false
          }
        },
        "y2": {"field": "hi"}
      }
    },
    {
      "mark": {"type": "tick", "orient": "horizontal", "size": 12, "thickness": 1.5, "color": "#808080"},
      "encoding": {"y": {"field": "lo", "type": "quantitative", "axis": null}}
    },
    {
      "mark": {"type": "tick", "orient": "horizontal", "size": 12, "thickness": 1.5, "color": "#808080"},
      "encoding": {"y": {"field": "hi", "type": "quantitative", "axis": null}}
    },
    {
      "mark": {"type": "text", "fontSize": 24, "color": "black", "baseline": "alphabetic", "dy": -7, "font": "Liberation Serif"},
      "encoding": {
        "y": {"field": "hi", "type": "quantitative", "axis": null},
        "text": {"field": "g"}
      }
    }
  ]
}
